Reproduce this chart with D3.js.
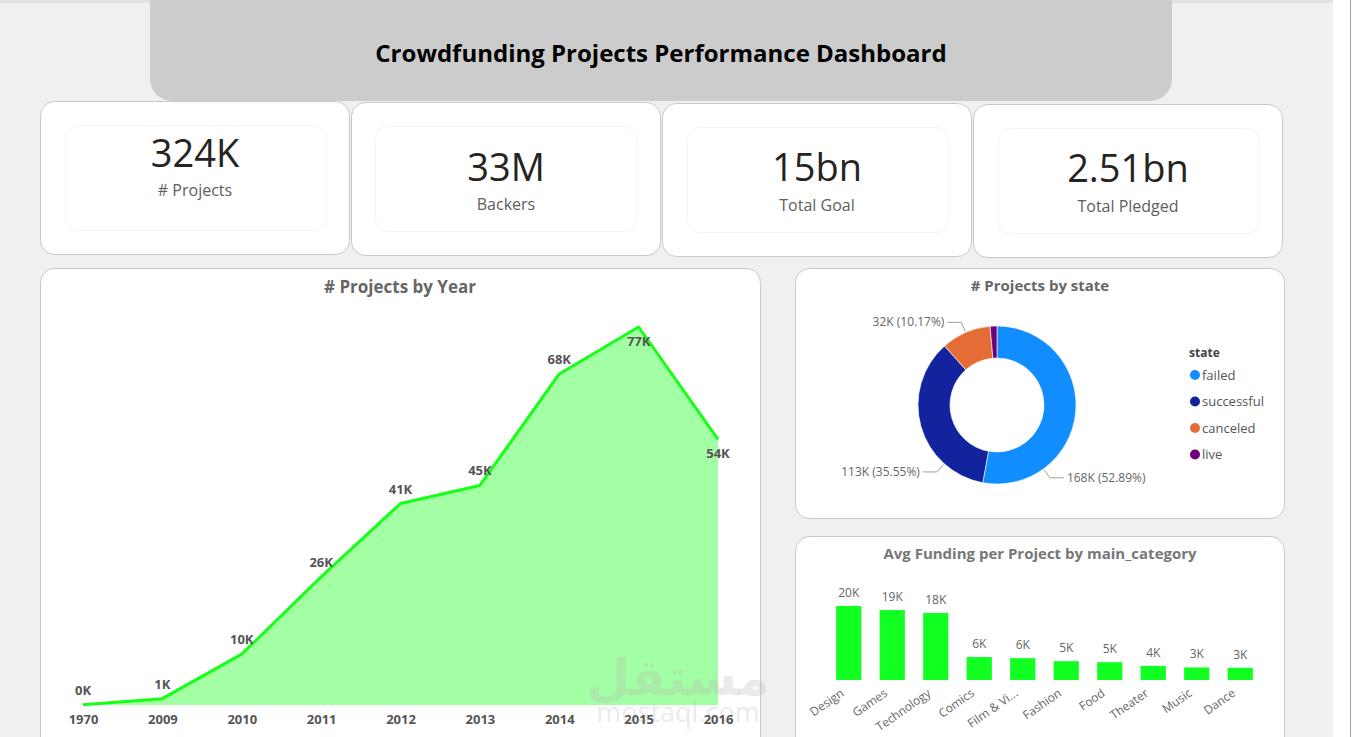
<!DOCTYPE html>
<html>
<head>
<meta charset="utf-8">
<script src="https://cdn.jsdelivr.net/npm/d3@7"></script>
<style>
  html, body { margin: 0; padding: 0; background: #f0f0f0; overflow: hidden; }
  svg { display: block; font-family: "Open Sans", "Noto Sans", sans-serif; }
</style>
</head>
<body>
<div id="dash"></div>
<script>
// KPI cards
const kpiValues = ['324K', '33M', '15bn', '2.51bn'];
const kpiLabels = ['# Projects', 'Backers', 'Total Goal', 'Total Pledged'];

// # Projects by Year
const years = ['1970', '2009', '2010', '2011', '2012', '2013', '2014', '2015', '2016'];
const yearProjects = [40, 1300, 10400, 26200, 41200, 44900, 67700, 77300, 54300];

// # Projects by state
const states = ['failed', 'successful', 'canceled', 'live'];
const stateProjects = [168221, 113081, 32354, 4428];
const stateColors = ['#118dff', '#12239e', '#e66c37', '#6b007b'];

// Avg Funding per Project by main_category
const categories = ['Design', 'Games', 'Technology', 'Comics', 'Film & Video', 'Fashion', 'Food', 'Theater', 'Music', 'Dance'];
const avgFunding = [20000, 18900, 18100, 6200, 5900, 5100, 4800, 3800, 3400, 3300];

const W = 1356, H = 737;
const svg = d3.select('#dash').append('svg').attr('width', W).attr('height', H);

// page background and right strip
svg.append('rect').attr('width', W).attr('height', H).attr('fill', '#f0f0f0');
svg.append('rect').attr('x', 1333).attr('width', W - 1333).attr('height', H).attr('fill', '#ffffff');
svg.append('line').attr('x1', 1350.5).attr('x2', 1350.5).attr('y1', 0).attr('y2', H)
  .attr('stroke', '#a0a0a0').attr('stroke-width', 1);
svg.append('rect').attr('width', 1333).attr('height', 3).attr('fill', '#e2e2e2');

const fmtK = v => Math.round(v / 1000) + 'K';

// card helper
function card(x, y, w, h, r) {
  svg.append('rect')
    .attr('x', x + 0.5).attr('y', y + 0.5).attr('width', w).attr('height', h)
    .attr('rx', r || 12).attr('fill', '#ffffff').attr('stroke', '#c8c8c8');
}

// KPI cards
const kpiBoxes = [
  { x: 40, y: 101, inner: [65, 125], vy: 153, ly: 190 },
  { x: 351, y: 102, inner: [375, 126], vy: 167, ly: 204 },
  { x: 662, y: 103, inner: [687, 127], vy: 167, ly: 205 },
  { x: 973, y: 104, inner: [998, 128], vy: 168, ly: 206 }
];
kpiBoxes.forEach((b, i) => {
  card(b.x, b.y, 309, 153, 14);
  svg.append('rect')
    .attr('x', b.inner[0] + 0.5).attr('y', b.inner[1] + 0.5).attr('width', 261).attr('height', 105)
    .attr('rx', 12).attr('fill', '#ffffff').attr('stroke', '#f4f4f4');
  svg.append('text')
    .attr('x', b.x + 155).attr('y', b.vy + 14)
    .attr('text-anchor', 'middle').attr('font-size', 38).attr('font-weight', 500)
    .attr('fill', '#252423')
    .text(kpiValues[i]);
  svg.append('text')
    .attr('x', b.x + 155).attr('y', b.ly + 6)
    .attr('text-anchor', 'middle').attr('font-size', 16).attr('fill', '#605e5c')
    .text(kpiLabels[i]);
});

// Title banner
svg.append('rect')
  .attr('x', 150).attr('y', -20).attr('width', 1022).attr('height', 121)
  .attr('rx', 22).attr('fill', '#cccccc');
svg.append('text')
  .attr('x', 661).attr('y', 62)
  .attr('text-anchor', 'middle').attr('font-size', 24).attr('font-weight', 'bold')
  .attr('fill', '#000000')
  .text('Crowdfunding Projects Performance Dashboard');

// ---------- # Projects by Year ----------
card(40, 268, 720, 500, 14);
svg.append('text')
  .attr('x', 400).attr('y', 293)
  .attr('text-anchor', 'middle').attr('font-size', 17).attr('font-weight', 'bold')
  .attr('fill', '#666666').text('# Projects by Year');

const xYear = d3.scalePoint().domain(years).range([83, 718]);
const yYear = d3.scaleLinear().domain([0, d3.max(yearProjects)]).range([705, 327]);
const yearData = years.map((y, i) => ({ year: y, value: yearProjects[i], i }));

svg.append('path')
  .datum(yearData)
  .attr('fill', '#a3ffa3')
  .attr('d', d3.area().x(d => xYear(d.year)).y0(yYear(0)).y1(d => yYear(d.value)));

svg.append('path')
  .datum(yearData)
  .attr('fill', 'none').attr('stroke', '#17ff17').attr('stroke-width', 3)
  .attr('stroke-linejoin', 'round')
  .attr('d', d3.line().x(d => xYear(d.year)).y(d => yYear(d.value)));

// watermark over the plot
const wm = svg.append('g').attr('fill', '#b8b8b8').attr('fill-opacity', 0.3);
wm.append('text').attr('x', 678).attr('y', 695).attr('text-anchor', 'middle')
  .attr('font-family', 'DejaVu Sans').attr('font-size', 50).attr('font-weight', 'bold').text('مستقل');
wm.append('text').attr('x', 678).attr('y', 722).attr('text-anchor', 'middle')
  .attr('font-family', 'Open Sans').attr('font-size', 27).text('mostaql.com');

svg.selectAll('.ylab')
  .data(yearData)
  .enter()
  .append('text')
  .attr('class', 'ylab')
  .attr('x', d => xYear(d.year))
  .attr('y', d => {
    const prev = d.i > 0 ? yearProjects[d.i - 1] : -1;
    const next = d.i < yearProjects.length - 1 ? yearProjects[d.i + 1] : -1;
    const below = prev > d.value || (next >= 0 && next < d.value);
    return yYear(d.value) + (below ? 19 : -10);
  })
  .attr('text-anchor', 'middle').attr('font-size', 13).attr('font-weight', 'bold')
  .attr('fill', '#555555')
  .text(d => fmtK(d.value));

const xAxis = svg.append('g')
  .attr('transform', 'translate(0,711)')
  .call(d3.axisBottom(xYear).tickSize(0).tickPadding(4));
xAxis.select('.domain').remove();
xAxis.selectAll('text')
  .attr('font-family', '"Open Sans", sans-serif').attr('font-size', 13)
  .attr('font-weight', 'bold').attr('fill', '#555555');

// ---------- # Projects by state ----------
card(795, 268, 489, 250, 14);
svg.append('text')
  .attr('x', 1040).attr('y', 291)
  .attr('text-anchor', 'middle').attr('font-size', 15).attr('font-weight', 'bold')
  .attr('fill', '#666666').text('# Projects by state');

const total = d3.sum(stateProjects);
const pie = d3.pie().sort(null).value(d => d.value);
const stateData = pie(states.map((s, i) => ({ state: s, value: stateProjects[i], color: stateColors[i] })));
const cx = 997, cy = 405;
const donut = svg.append('g').attr('transform', 'translate(' + cx + ',' + cy + ')');
const arc = d3.arc().innerRadius(47).outerRadius(79);
donut.selectAll('path')
  .data(stateData)
  .enter()
  .append('path')
  .attr('d', arc)
  .attr('fill', d => d.data.color)
  .attr('stroke', '#ffffff').attr('stroke-width', 0.6);

// slice labels with leader lines; big slices get pulled toward the bottom,
// the tiny "live" slice has no label
const polar = (r, a) => [r * Math.sin(a), -r * Math.cos(a)];
stateData.slice(0, 3).forEach(d => {
  let a = (d.startAngle + d.endAngle) / 2;
  if (d.endAngle - d.startAngle > Math.PI / 2) {
    a = Math.sin(a) > 0 ? Math.PI * 0.8 : Math.PI * 1.233;
  }
  const right = Math.sin(a) > 0;
  const p0 = polar(80, a);
  const p1 = polar(90, a);
  const p2 = [p1[0] + (right ? 14 : -14), p1[1]];
  donut.append('polyline')
    .attr('points', [p0, p1, p2].map(p => p.join(',')).join(' '))
    .attr('fill', 'none').attr('stroke', '#a0a0a0').attr('stroke-width', 1);
  donut.append('text')
    .attr('x', p2[0] + (right ? 3 : -3)).attr('y', p2[1] + 4)
    .attr('text-anchor', right ? 'start' : 'end')
    .attr('font-size', 12).attr('fill', '#666666')
    .text(fmtK(d.data.value) + ' (' + (d.data.value / total * 100).toFixed(2) + '%)');
});

// legend
const legend = svg.append('g').attr('transform', 'translate(1189,0)');
legend.append('text').attr('x', 0).attr('y', 357)
  .attr('font-size', 12).attr('font-weight', 'bold').attr('fill', '#444444').text('state');
const leg = legend.selectAll('.leg')
  .data(states)
  .enter()
  .append('g')
  .attr('transform', (d, i) => 'translate(0,' + (375 + i * 26.5) + ')');
leg.append('circle').attr('cx', 6).attr('cy', 0).attr('r', 5)
  .attr('fill', (d, i) => stateColors[i]);
leg.append('text').attr('x', 13).attr('y', 4.5)
  .attr('font-size', 13).attr('fill', '#555555').text(d => d);

// ---------- Avg Funding per Project by main_category ----------
card(795, 536, 489, 240, 14);
svg.append('text')
  .attr('x', 1040).attr('y', 559)
  .attr('text-anchor', 'middle').attr('font-size', 15).attr('font-weight', 'bold')
  .attr('fill', '#777777').text('Avg Funding per Project by main_category');

const xCat = d3.scaleBand().domain(categories).range([827, 1262]).paddingInner(0.42).paddingOuter(0.21);
const yCat = d3.scaleLinear().domain([0, d3.max(avgFunding)]).range([680, 606]);
const catData = categories.map((c, i) => ({ cat: c, value: avgFunding[i] }));

svg.selectAll('.bar')
  .data(catData)
  .enter()
  .append('rect')
  .attr('class', 'bar')
  .attr('x', d => xCat(d.cat))
  .attr('y', d => yCat(d.value))
  .attr('width', xCat.bandwidth())
  .attr('height', d => yCat(0) - yCat(d.value))
  .attr('fill', '#12ff22');

svg.selectAll('.blab')
  .data(catData)
  .enter()
  .append('text')
  .attr('class', 'blab')
  .attr('x', d => xCat(d.cat) + xCat.bandwidth() / 2)
  .attr('y', d => yCat(d.value) - 9)
  .attr('text-anchor', 'middle').attr('font-size', 12).attr('fill', '#666666')
  .text(d => fmtK(d.value));

const catAxis = svg.append('g')
  .attr('transform', 'translate(0,682)')
  .call(d3.axisBottom(xCat).tickSize(0).tickPadding(0)
    .tickFormat(c => c.length > 10 ? c.slice(0, 9) + '...' : c));
catAxis.select('.domain').remove();
catAxis.selectAll('text')
  .attr('font-family', '"Open Sans", sans-serif').attr('font-size', 12).attr('fill', '#666666')
  .attr('text-anchor', 'end')
  .attr('x', 0).attr('y', 0).attr('dy', 0)
  .attr('transform', 'translate(-4,13) rotate(-35)');
</script>
</body>
</html>
